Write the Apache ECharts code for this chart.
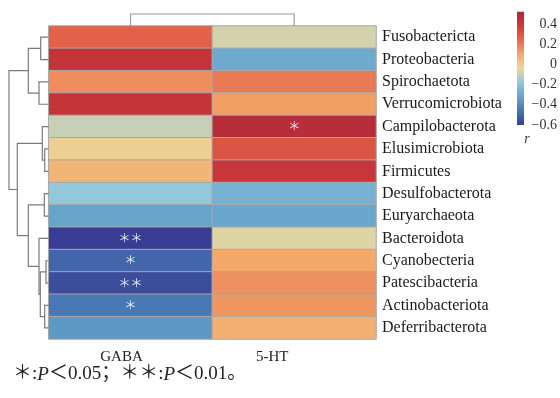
<!DOCTYPE html>
<html>
<head>
<meta charset="utf-8">
<script src="https://cdn.jsdelivr.net/npm/echarts@6/dist/echarts.min.js"></script>
<style>
  html, body { margin: 0; padding: 0; background: #fff; }
  #chart { width: 560px; height: 398px; }
</style>
</head>
<body>
<div id="chart"></div>
<script>
// 热图数据
var rows = ['Fusobactericta', 'Proteobacteria', 'Spirochaetota', 'Verrucomicrobiota',
  'Campilobacterota', 'Elusimicrobiota', 'Firmicutes', 'Desulfobacterota', 'Euryarchaeota',
  'Bacteroidota', 'Cyanobecteria', 'Patescibacteria', 'Actinobacteriota', 'Deferribacterota'];
var cols = ['GABA', '5-HT'];
var gabaR = [0.26, 0.42, 0.16, 0.42, -0.10, -0.02, 0.06, -0.18, -0.32, -0.60, -0.50, -0.56, -0.45, -0.36];
var htR = [-0.08, -0.30, 0.20, 0.12, 0.48, 0.30, 0.41, -0.27, -0.31, -0.06, 0.10, 0.15, 0.14, 0.08];
var gabaSig = ['', '', '', '', '', '', '', '', '', '**', '*', '**', '*', ''];
var htSig = ['', '', '', '', '*', '', '', '', '', '', '', '', '', ''];
// 聚类树: [a, b, height], 新簇编号从叶子数开始
var rowMerges = [[0, 1, 8.0], [2, 3, 9.7], [14, 15, 20.4], [5, 6, 4.0], [4, 17, 6.4],
  [7, 8, 4.4], [10, 11, 2.7], [12, 13, 4.0], [20, 21, 8.4], [9, 22, 9.7],
  [19, 23, 20.4], [18, 24, 31.4], [16, 25, 39.7]];
var colMerges = [[0, 1, 12]];
var rMin = -0.6, rMax = 0.52;
var palette = ['#383d93', '#4676b3', '#67a5cb', '#93c7db', '#ecd69a', '#f4a86a', '#e6684c', '#cc3a3a', '#b0283a'];

function buildDendro(merges, n) {
  var pos = [], h = [], out = [];
  for (var i = 0; i < n; i++) { pos.push(i); h.push(0); }
  merges.forEach(function (m) {
    out.push([pos[m[0]], pos[m[1]], h[m[0]], h[m[1]], m[2]]);
    pos.push((pos[m[0]] + pos[m[1]]) / 2);
    h.push(m[2]);
  });
  return out;
}

var heatData = [];
rows.forEach(function (r, i) {
  heatData.push([0, i, gabaR[i]]);
  heatData.push([1, i, htR[i]]);
});
var sig = [gabaSig, htSig];

var serif = "'Liberation Serif', 'Times New Roman', serif";
var myChart = echarts.init(document.getElementById('chart'));

function dendroItem(horizontal, color) {
  return function (params, api) {
    var a = api.value(0), b = api.value(1), ha = api.value(2), hb = api.value(3), hm = api.value(4);
    var pts = horizontal
      ? [[ha, a], [hm, a], [hm, b], [hb, b]]
      : [[a, ha], [a, hm], [b, hm], [b, hb]];
    return {
      type: 'polyline',
      shape: { points: pts.map(function (p) { return api.coord(p); }) },
      style: { stroke: color, fill: null, lineWidth: 1.2 }
    };
  };
}

var stops = palette.map(function (c, i) { return { offset: i / (palette.length - 1), color: c }; });

var option = {
  animation: false,
  title: {
    left: 8,
    top: 360,
    text: '{a|＊:}{p|P}{a|＜0.05；＊＊:}{p|P}{a|＜0.01。}',
    textStyle: {
      fontWeight: 'normal',
      rich: {
        a: { fontFamily: "'Liberation Serif', 'Noto Sans CJK SC'", fontSize: 19, fontWeight: 'normal', color: '#222' },
        p: { fontFamily: serif, fontSize: 19, fontStyle: 'italic', fontWeight: 'normal', color: '#222' }
      }
    }
  },
  visualMap: {
    show: false,
    type: 'continuous',
    seriesIndex: 0,
    min: rMin,
    max: rMax,
    inRange: { color: palette }
  },
  grid: [
    { left: 48.7, right: 184, top: 26, height: 313 },
    { left: 8.7, width: 40, top: 26, height: 313 },
    { left: 48.7, right: 184, top: 14, height: 12 },
    { left: 517, width: 8, top: 11.7, height: 113.3 }
  ],
  xAxis: [
    {
      gridIndex: 0, type: 'category', data: cols,
      axisLine: { show: false }, axisTick: { show: false },
      axisLabel: {
        margin: 11,
        formatter: function (v) { return '{' + (v === 'GABA' ? 'a' : 'b') + '|' + v + '}'; },
        rich: {
          a: { fontFamily: serif, fontSize: 15, color: '#222', padding: [0, 18, 0, 0] },
          b: { fontFamily: serif, fontSize: 15, color: '#222', padding: [0, 44, 0, 0] }
        }
      }
    },
    { gridIndex: 1, type: 'value', min: 0, max: 40, inverse: true, show: false },
    { gridIndex: 2, type: 'category', data: cols, show: false },
    { gridIndex: 3, type: 'value', min: 0, max: 1, show: false }
  ],
  yAxis: [
    {
      gridIndex: 0, type: 'category', data: rows, inverse: true, position: 'right',
      axisLine: { show: false }, axisTick: { show: false },
      axisLabel: { margin: 6, fontFamily: serif, fontSize: 16, color: '#1a1a1a' }
    },
    { gridIndex: 1, type: 'value', min: -0.5, max: 13.5, inverse: true, show: false },
    { gridIndex: 2, type: 'value', min: 0, max: 12, show: false },
    {
      gridIndex: 3, type: 'value', min: rMin, max: rMax, interval: 0.2, position: 'right',
      splitLine: { show: false }, axisLine: { show: false },
      axisTick: { show: false },
      name: 'r', nameLocation: 'start', nameGap: 4,
      nameTextStyle: { fontFamily: serif, fontStyle: 'italic', fontSize: 14, color: '#333', padding: [0, 0, 0, 20] },
      axisLabel: {
        margin: 33, align: 'right', showMaxLabel: false,
        fontFamily: serif, fontSize: 14, color: '#333',
        formatter: function (v) {
          if (Math.abs(v) < 1e-9) return '0';
          return (v < 0 ? '\u2212' : '') + Math.abs(v).toFixed(1);
        }
      }
    }
  ],
  series: [
    {
      type: 'heatmap',
      xAxisIndex: 0, yAxisIndex: 0,
      data: heatData,
      itemStyle: { borderColor: '#a8a8a8', borderWidth: 1 },
      label: {
        show: true,
        color: '#eeeef4',
        fontFamily: "'Noto Sans CJK SC'",
        fontSize: 12,
        formatter: function (p) {
          return sig[p.value[0]][p.value[1]].replace(/\*/g, '＊');
        }
      },
      emphasis: { disabled: true }
    },
    {
      type: 'custom', xAxisIndex: 1, yAxisIndex: 1,
      data: buildDendro(rowMerges, rows.length),
      renderItem: dendroItem(true, '#7a7a7a'),
      silent: true
    },
    {
      type: 'custom', xAxisIndex: 2, yAxisIndex: 2,
      data: buildDendro(colMerges, cols.length),
      renderItem: dendroItem(false, '#9a9a9a'),
      silent: true
    },
    {
      // 色标
      type: 'custom', xAxisIndex: 3, yAxisIndex: 3,
      data: [[0, rMin, 1, rMax]],
      renderItem: function (params, api) {
        var p0 = api.coord([api.value(0), api.value(3)]);
        var p1 = api.coord([api.value(2), api.value(1)]);
        return {
          type: 'rect',
          shape: { x: p0[0], y: p0[1], width: p1[0] - p0[0], height: p1[1] - p0[1] },
          style: { fill: new echarts.graphic.LinearGradient(0, 1, 0, 0, stops) }
        };
      },
      silent: true
    }
  ]
};

myChart.setOption(option);
window.addEventListener('resize', function () {
  myChart.resize();
});
</script>
</body>
</html>
